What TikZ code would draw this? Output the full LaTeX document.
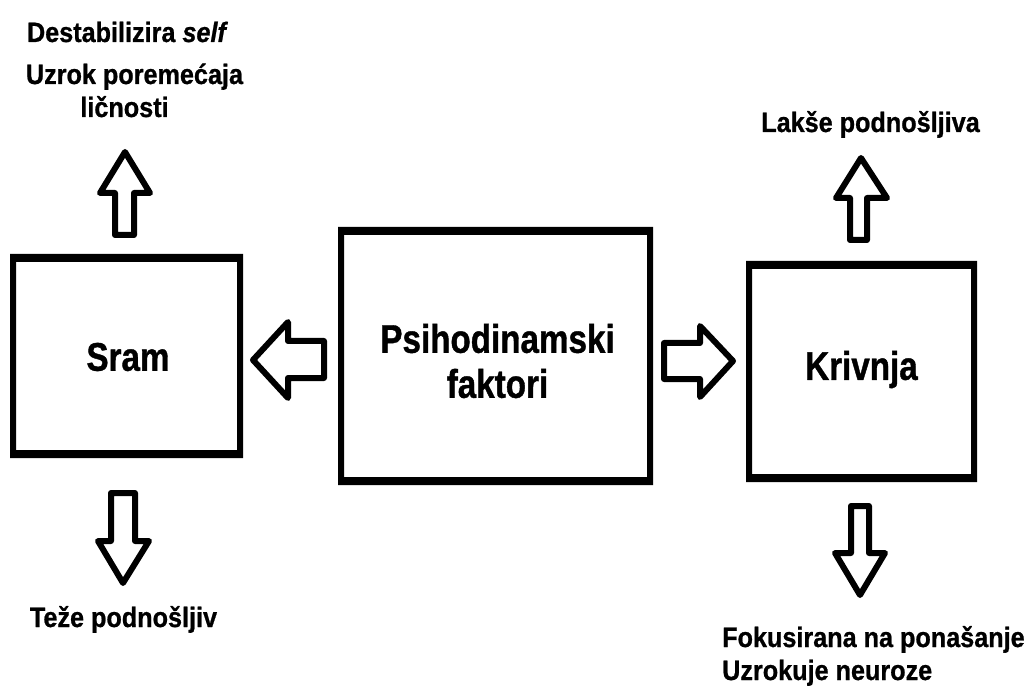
\documentclass[tikz,border=0pt]{standalone}
\usepackage{fontspec}
\setmainfont{Liberation Sans}[FakeStretch=0.9,BoldFeatures={FakeBold=0.8},BoldItalicFeatures={FakeBold=0.8}]
\newfontfamily\bigfont{Liberation Sans}[FakeStretch=0.83,BoldFeatures={FakeBold=1}]
\usetikzlibrary{calc}
\newcommand\drawframe[3]{\fill[even odd rule] (#1.north west) rectangle (#1.south east) ($(#1.north west)+(#2,#3)$) rectangle ($(#1.south east)+(-#2,-#3)$);}
\begin{document}
\begin{tikzpicture}[x=1pt,y=-1pt,
  frame/.style={draw=none,inner sep=0pt,outer sep=0pt},
  barrow/.style={draw=black,line width=6pt,line join=round,fill=white},
  small/.style={inner sep=0pt,font=\fontsize{28pt}{33pt}\selectfont\bfseries},
  big/.style={inner sep=0pt,align=center,font=\bigfont\fontsize{40pt}{45pt}\selectfont\bfseries}]
\fill[white] (0,0) rectangle (1025,692);
\useasboundingbox (0,0) rectangle (1025,692);
% boxes
\node[frame,minimum width=233pt,minimum height=204pt] (sram) at (126.5,356) {};
\node[frame,minimum width=315pt,minimum height=258pt] (psi) at (495.5,356) {};
\node[frame,minimum width=231pt,minimum height=221pt] (kriv) at (861.5,371.5) {};
\drawframe{sram}{6}{8}
\drawframe{psi}{6}{8}
\drawframe{kriv}{6}{8}
% box texts
\node[big] (sramt) at ($(sram)+(1.5,1)$) {Sram};
\node[big] (psit) at ($(psi)+(2,5)$) {Psihodinamski\\faktori};
\node[big] (krivt) at ($(kriv)+(0,-2)$) {Krivnja};
% outer texts
\node[small,anchor=base] (t1) at (127.5,42) {Destabilizira \textit{self}};
\node[small,anchor=base] (t2) at (134.5,84) {Uzrok poremećaja};
\node[small,anchor=base] (t3) at (124.5,117) {ličnosti};
\node[small,anchor=base] (t4) at (870.5,132) {Lakše podnošljiva};
\node[small,anchor=base] (t5) at (123.5,627) {Teže podnošljiv};
\node[small,anchor=base west] (t6) at (722,647) {Fokusirana na ponašanje};
\node[small,anchor=base west] (t7) at (722,680) {Uzrokuje neuroze};
% block arrows
\draw[barrow] (253,360) -- (288,322) -- (288,341) -- (324,341) -- (324,378) -- (288,378) -- (288,398) -- cycle;
\draw[barrow] (733,361) -- (700,326) -- (700,343) -- (664,343) -- (664,379) -- (700,379) -- (700,397) -- cycle;
\draw[barrow] (125,152) -- (150,193) -- (134,193) -- (134,235) -- (115,235) -- (115,193) -- (100,193) -- cycle;
\draw[barrow] (861,158) -- (887,198) -- (867,198) -- (867,240) -- (850,240) -- (850,198) -- (836,198) -- cycle;
\draw[barrow] (123,583) -- (149,541) -- (135,541) -- (135,493) -- (111,493) -- (111,541) -- (98,541) -- cycle;
\draw[barrow] (860,595) -- (885,553) -- (869,553) -- (869,506) -- (851,506) -- (851,553) -- (835,553) -- cycle;
\end{tikzpicture}
\end{document}
